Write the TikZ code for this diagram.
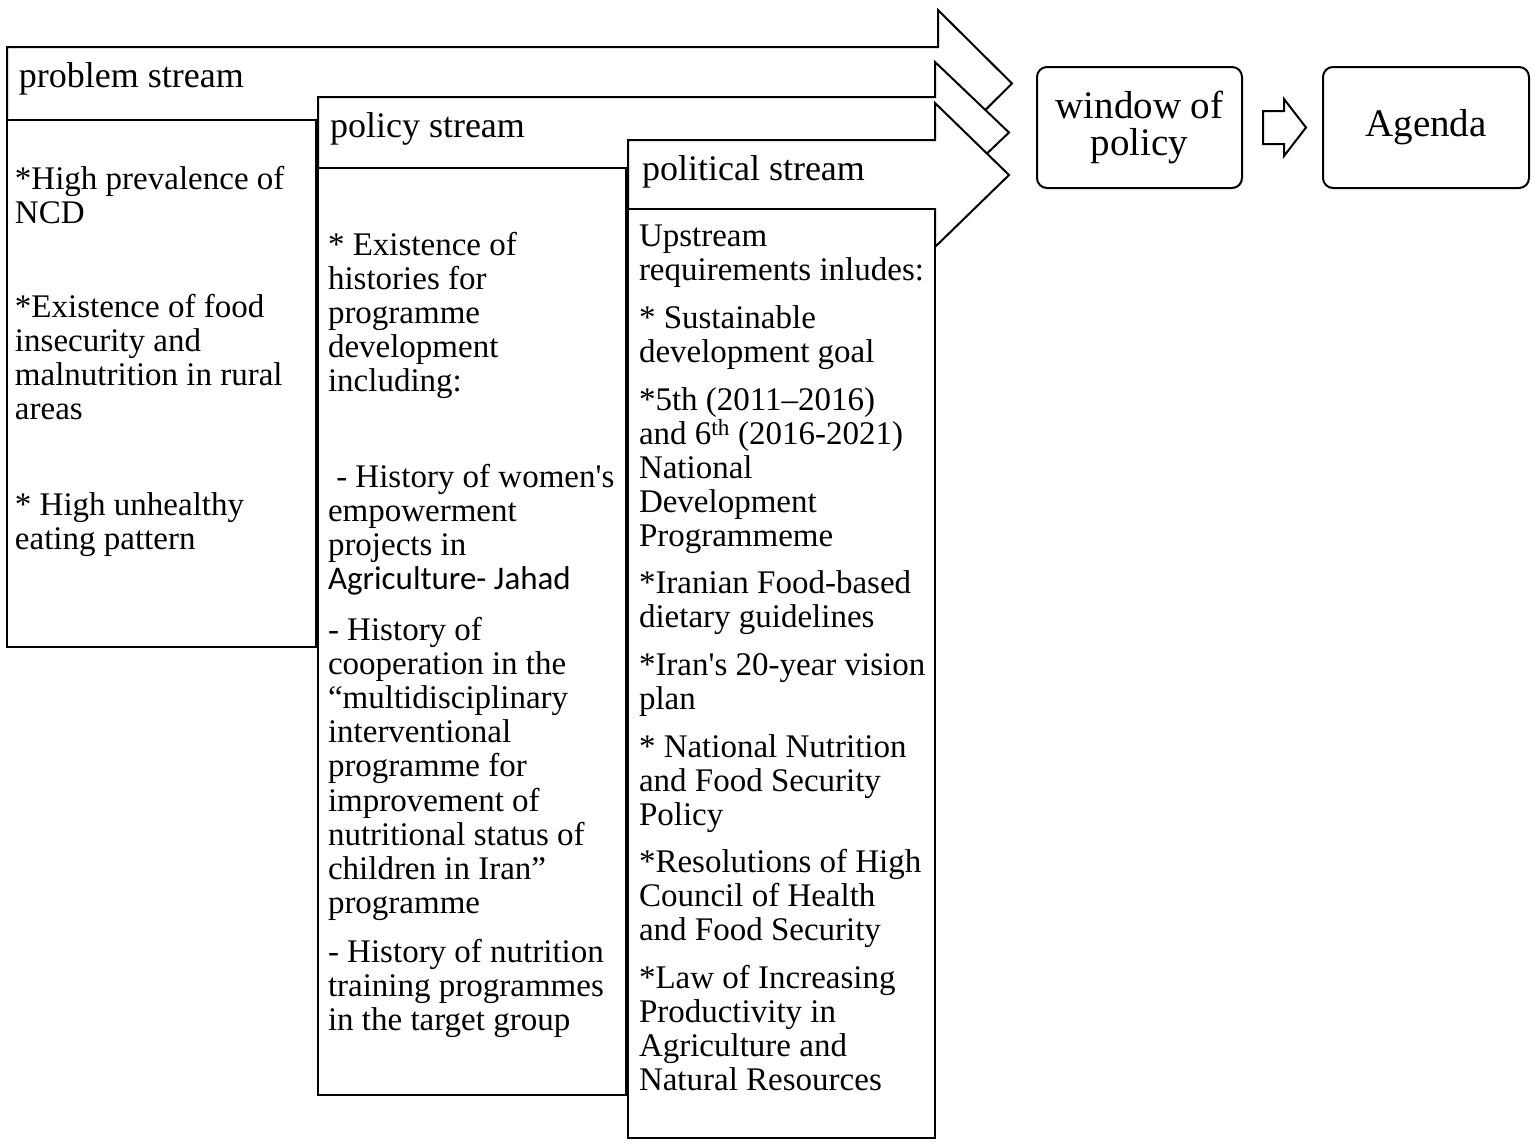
\documentclass[tikz,border=0pt]{standalone}
\usepackage{fontspec}
\setmainfont{Liberation Serif}
\newfontfamily\calfont{Carlito}
\usetikzlibrary{calc}
\newcommand\bodyfnt{\fontsize{33}{34.2}\selectfont}
\newcommand\headfnt{\fontsize{36}{40}\selectfont}
\newcommand\winfnt{\fontsize{39}{37}\selectfont}
\begin{document}
\begin{tikzpicture}[x=1pt,y=-1pt,line width=2pt,
  stream/.style={draw=black,fill=white,line join=miter},
  body/.style={anchor=base west,inner sep=0pt,outer sep=0pt,align=flush left,text width=330pt,font=\bodyfnt},
  head/.style={anchor=base west,inner sep=0pt,font=\headfnt},
  rbox/.style={draw,rounded corners=10pt,minimum width=205pt,minimum height=121pt,align=center,font=\winfnt,inner sep=0pt}]
\useasboundingbox (0,0) rectangle (1535,1146);

% problem stream
\draw[stream] (7,47) -- (938,47) -- (938,10) -- (1012,83.5) -- (938,157) -- (938,120) -- (7,120) -- cycle;
\draw[stream] (7,120) rectangle (316,647);
% policy stream
\draw[stream] (318,97) -- (935,97) -- (935,62) -- (1009,132.5) -- (935,203) -- (935,168) -- (318,168) -- cycle;
\draw[stream] (318,168) rectangle (626,1095);
% political stream
\draw[stream] (628,140) -- (935,140) -- (935,103) -- (1009,175) -- (935,247) -- (935,209) -- (628,209) -- cycle;
\draw[stream] (628,209) rectangle (935,1138);

% headers
\node[head] (hprob) at (18,87) {problem stream};
\node[head] (hpol) at (329,137) {policy stream};
\node[head] (hpolit) at (641,180) {political stream};

% problem texts
\node[body] (p1) at (15,189) {*High prevalence of\\NCD};
\node[body] (p2) at (15,317) {*Existence of food\\insecurity and\\malnutrition in rural\\areas};
\node[body] (p3) at (15,515) {* High unhealthy\\eating pattern};

% policy texts
\node[body] (q1) at (328,255) {* Existence of\\histories for\\programme\\development\\including:};
\node[body] (q2) at (328,487) {\hspace{8.25pt}- History of women\textquotesingle s\\empowerment\\projects in\\{\calfont Agriculture- Jahad}};
\node[body] (q3) at (328,640) {- History of\\cooperation in the\\“multidisciplinary\\interventional\\programme for\\improvement of\\nutritional status of\\children in Iran”\\programme};
\node[body] (q4) at (328,962) {- History of nutrition\\training programmes\\in the target group};

% political texts
\node[body] (r1) at (639,246) {Upstream\\requirements inludes:};
\node[body] (r2) at (639,328) {* Sustainable\\development goal};
\node[body] (r3) at (639,410) {*5th (2011–2016)\\and 6\textsuperscript{th} (2016-2021)\\National\\Development\\Programmeme};
\node[body] (r4) at (639,593) {*Iranian Food-based\\dietary guidelines};
\node[body] (r5) at (639,675) {*Iran\textquotesingle s 20-year vision\\plan};
\node[body] (r6) at (639,757) {* National Nutrition\\and Food Security\\Policy};
\node[body] (r7) at (639,872) {*Resolutions of High\\Council of Health\\and Food Security};
\node[body] (r8) at (639,988) {*Law of Increasing\\Productivity in\\Agriculture and\\Natural Resources};

% window and agenda
\node[rbox] (win) at (1139.5,127.5) {window of\\policy};
\node[rbox,minimum width=206pt] (agenda) at (1426,127.5) {Agenda};
\coordinate (as) at ($(win.east)+(20,0)$);
\coordinate (at) at ($(agenda.west)+(-16,0)$);
\draw[stream] ($(as)+(0,-16.5)$) -- ($(as)+(21,-16.5)$) -- ($(as)+(21,-28.5)$) -- (at) -- ($(as)+(21,28.5)$) -- ($(as)+(21,16.5)$) -- ($(as)+(0,16.5)$) -- cycle;
\end{tikzpicture}
\end{document}
